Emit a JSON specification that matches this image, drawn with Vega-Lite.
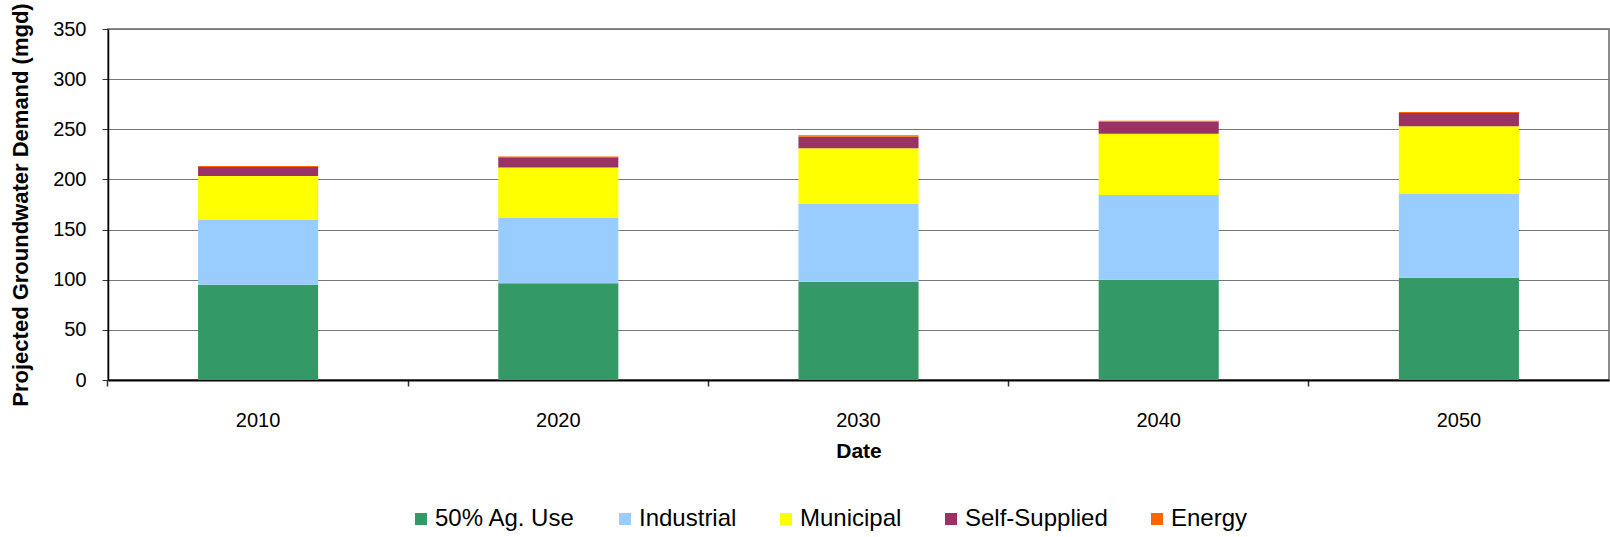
{
  "$schema": "https://vega.github.io/schema/vega-lite/v6.json",
  "autosize": {"type": "none"},
  "width": 1501,
  "height": 351,
  "padding": {"left": 108, "top": 29, "right": 1, "bottom": 157},
  "background": "white",
  "config": {
    "font": "Liberation Sans",
    "view": {"stroke": "#8c8c8c", "strokeWidth": 2},
    "axis": {"labelFont": "Liberation Sans", "titleFont": "Liberation Sans", "labelColor": "black", "titleColor": "black"}
  },
  "data": {
    "values": [
      {"Date": "2010", "Use": "50% Ag. Use", "Demand": 95, "o": 1},
      {"Date": "2010", "Use": "Industrial", "Demand": 64.5, "o": 2},
      {"Date": "2010", "Use": "Municipal", "Demand": 44, "o": 3},
      {"Date": "2010", "Use": "Self-Supplied", "Demand": 9, "o": 4},
      {"Date": "2010", "Use": "Energy", "Demand": 1, "o": 5},
      {"Date": "2020", "Use": "50% Ag. Use", "Demand": 96.5, "o": 1},
      {"Date": "2020", "Use": "Industrial", "Demand": 65.5, "o": 2},
      {"Date": "2020", "Use": "Municipal", "Demand": 50, "o": 3},
      {"Date": "2020", "Use": "Self-Supplied", "Demand": 10, "o": 4},
      {"Date": "2020", "Use": "Energy", "Demand": 0.8, "o": 5},
      {"Date": "2030", "Use": "50% Ag. Use", "Demand": 98, "o": 1},
      {"Date": "2030", "Use": "Industrial", "Demand": 78, "o": 2},
      {"Date": "2030", "Use": "Municipal", "Demand": 55, "o": 3},
      {"Date": "2030", "Use": "Self-Supplied", "Demand": 11.5, "o": 4},
      {"Date": "2030", "Use": "Energy", "Demand": 1.5, "o": 5},
      {"Date": "2040", "Use": "50% Ag. Use", "Demand": 100, "o": 1},
      {"Date": "2040", "Use": "Industrial", "Demand": 84.5, "o": 2},
      {"Date": "2040", "Use": "Municipal", "Demand": 61, "o": 3},
      {"Date": "2040", "Use": "Self-Supplied", "Demand": 12, "o": 4},
      {"Date": "2040", "Use": "Energy", "Demand": 1, "o": 5},
      {"Date": "2050", "Use": "50% Ag. Use", "Demand": 102, "o": 1},
      {"Date": "2050", "Use": "Industrial", "Demand": 84, "o": 2},
      {"Date": "2050", "Use": "Municipal", "Demand": 67, "o": 3},
      {"Date": "2050", "Use": "Self-Supplied", "Demand": 13.3, "o": 4},
      {"Date": "2050", "Use": "Energy", "Demand": 1, "o": 5}
    ]
  },
  "mark": {"type": "bar"},
  "encoding": {
    "x": {
      "field": "Date",
      "type": "ordinal",
      "scale": {"paddingInner": 0.6, "paddingOuter": 0.3},
      "axis": {
        "title": "Date",
        "labelAngle": 0,
        "labelFontSize": 20,
        "labelPadding": 24,
        "titleFontSize": 21,
        "titleFontWeight": "bold",
        "titlePadding": 10,
        "bandPosition": -0.75,
        "tickSize": 6,
        "tickColor": "#333333",
        "tickWidth": 1.5,
        "domainColor": "black",
        "domainWidth": 2
      }
    },
    "y": {
      "field": "Demand",
      "type": "quantitative",
      "stack": "zero",
      "scale": {"domain": [0, 350], "nice": false},
      "axis": {
        "title": "Projected Groundwater Demand (mgd)",
        "values": [0, 50, 100, 150, 200, 250, 300, 350],
        "labelFontSize": 20,
        "labelPadding": 16,
        "titleFontSize": 22,
        "titleFontWeight": "bold",
        "titlePadding": 20,
        "tickSize": 6,
        "tickColor": "#333333",
        "domainColor": "black",
        "domainWidth": 1.5,
        "gridColor": "#777777",
        "gridWidth": 1
      }
    },
    "color": {
      "field": "Use",
      "type": "nominal",
      "sort": ["50% Ag. Use", "Industrial", "Municipal", "Self-Supplied", "Energy"],
      "scale": {
        "domain": ["50% Ag. Use", "Industrial", "Municipal", "Self-Supplied", "Energy"],
        "range": ["#339966", "#99CCFF", "#FFFF00", "#993366", "#FF6600"]
      },
      "legend": {
        "title": null,
        "orient": "none",
        "direction": "horizontal",
        "legendX": 301,
        "legendY": 478,
        "symbolType": "square",
        "symbolSize": 144,
        "symbolStrokeWidth": 0,
        "labelFontSize": 24,
        "labelFont": "Liberation Sans",
        "labelColor": "black",
        "labelOffset": 2,
        "columnPadding": 37,
        "labelLimit": 400
      }
    },
    "order": {"field": "o", "type": "quantitative"}
  }
}
